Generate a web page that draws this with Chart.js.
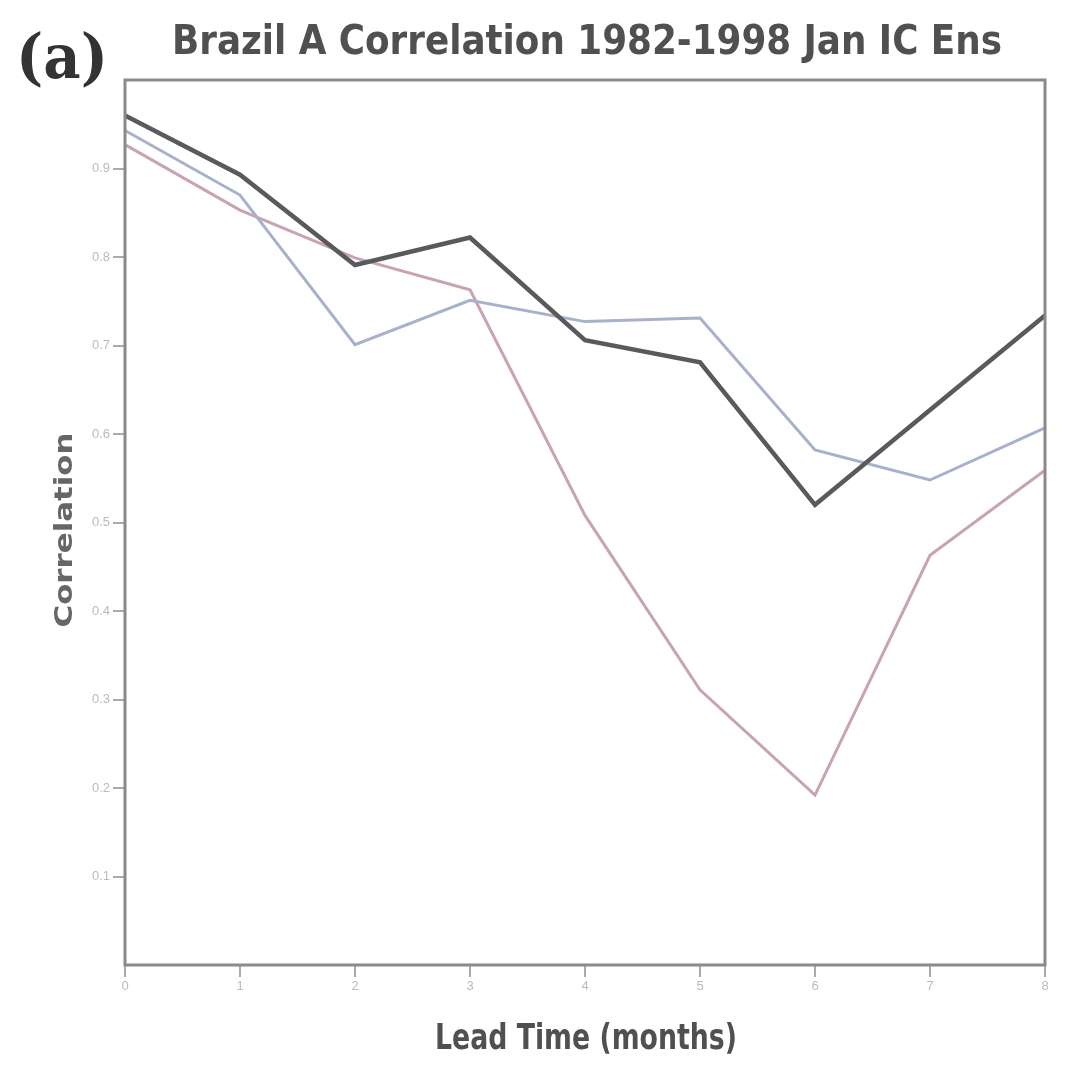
<!DOCTYPE html>
<html>
<head>
<meta charset="utf-8">
<script src="https://cdn.jsdelivr.net/npm/chart.js@4/dist/chart.umd.min.js"></script>
<style>
  html, body { margin: 0; padding: 0; background: #fff; }
  #wrap { width: 1079px; height: 1070px; }
</style>
</head>
<body>
<div id="wrap"><canvas id="myChart" width="1079" height="1070"></canvas></div>
<script>
// lead times (months) and correlation per ensemble
const leadTimes = ["0", "1", "2", "3", "4", "5", "6", "7", "8"];
const ensBlack = [0.96, 0.893, 0.791, 0.822, 0.706, 0.681, 0.520, 0.627, 0.734];
const ensBlue  = [0.943, 0.870, 0.701, 0.751, 0.727, 0.731, 0.582, 0.548, 0.607];
const ensRed   = [0.927, 0.853, 0.799, 0.763, 0.508, 0.311, 0.192, 0.463, 0.559];
const yTicks   = [0.1, 0.2, 0.3, 0.4, 0.5, 0.6, 0.7, 0.8, 0.9];

const titleText = "Brazil A Correlation 1982-1998 Jan IC Ens";
const xTitle = "Lead Time (months)";
const yTitle = "Correlation";
const cond = "'DejaVu Sans Condensed', 'DejaVu Sans', sans-serif";

// draw text squeezed or stretched to a given width
function fitText(ctx, text, cx, cy, width) {
    const w = ctx.measureText(text).width;
    ctx.save();
    ctx.translate(cx, cy);
    ctx.scale(width / w, 1);
    ctx.fillText(text, 0, 0);
    ctx.restore();
}

// frame, panel letter and titles
const decorations = {
    id: "decorations",
    afterDraw(chart) {
        const ctx = chart.ctx;
        const a = chart.chartArea;
        ctx.save();
        ctx.strokeStyle = "#8a8a8a";
        ctx.lineWidth = 3;
        ctx.strokeRect(a.left, a.top, a.right - a.left, a.bottom - a.top);

        ctx.fillStyle = "#333";
        ctx.textBaseline = "middle";
        ctx.textAlign = "center";
        ctx.font = "bold 62px 'DejaVu Serif', serif";
        fitText(ctx, "(a)", 62, 62, 92);

        ctx.fillStyle = "#505050";
        ctx.font = "bold 40px " + cond;
        fitText(ctx, titleText, 587, 44, 830);

        ctx.font = "bold 36px " + cond;
        fitText(ctx, xTitle, 586, 1040, 302);

        ctx.fillStyle = "#666";
        ctx.font = "bold 24px " + cond;
        ctx.save();
        ctx.translate(66, 530);
        ctx.rotate(-Math.PI / 2);
        fitText(ctx, yTitle, 0, 0, 195);
        ctx.restore();
        ctx.restore();
    }
};

function makeLine(data, color, width) {
    return {
        data: data,
        borderColor: color,
        borderWidth: width,
        pointRadius: 0,
        tension: 0,
        fill: false
    };
}

const grid = {
    display: true,
    drawOnChartArea: false,
    drawTicks: true,
    tickLength: 12,
    lineWidth: 2,
    color: "#aaa"
};

const ctx = document.getElementById("myChart").getContext("2d");
const myChart = new Chart(ctx, {
    type: "line",
    data: {
        labels: leadTimes,
        datasets: [
            makeLine(ensBlack, "#5a5a5e", 4.5),
            makeLine(ensBlue, "#a7b1cc", 3),
            makeLine(ensRed, "#c9a3b4", 3)
        ]
    },
    plugins: [decorations],
    options: {
        responsive: false,
        animation: false,
        layout: { padding: { top: 80, right: 34, left: 0, bottom: 0 } },
        plugins: {
            legend: { display: false },
            tooltip: { enabled: false }
        },
        scales: {
            x: {
                offset: false,
                grid: grid,
                border: { display: false },
                ticks: { color: "#bbb", font: { size: 13 }, padding: 2, maxRotation: 0 },
                afterFit: s => { s.height = 105; }
            },
            y: {
                min: 0,
                max: 1,
                afterBuildTicks: s => { s.ticks = yTicks.map(v => ({ value: v })); },
                grid: grid,
                border: { display: false },
                ticks: {
                    color: "#bbb",
                    font: { size: 13 },
                    padding: 3,
                    callback: v => v.toFixed(1)
                },
                afterFit: s => { s.width = 125; }
            }
        }
    }
});
</script>
</body>
</html>
